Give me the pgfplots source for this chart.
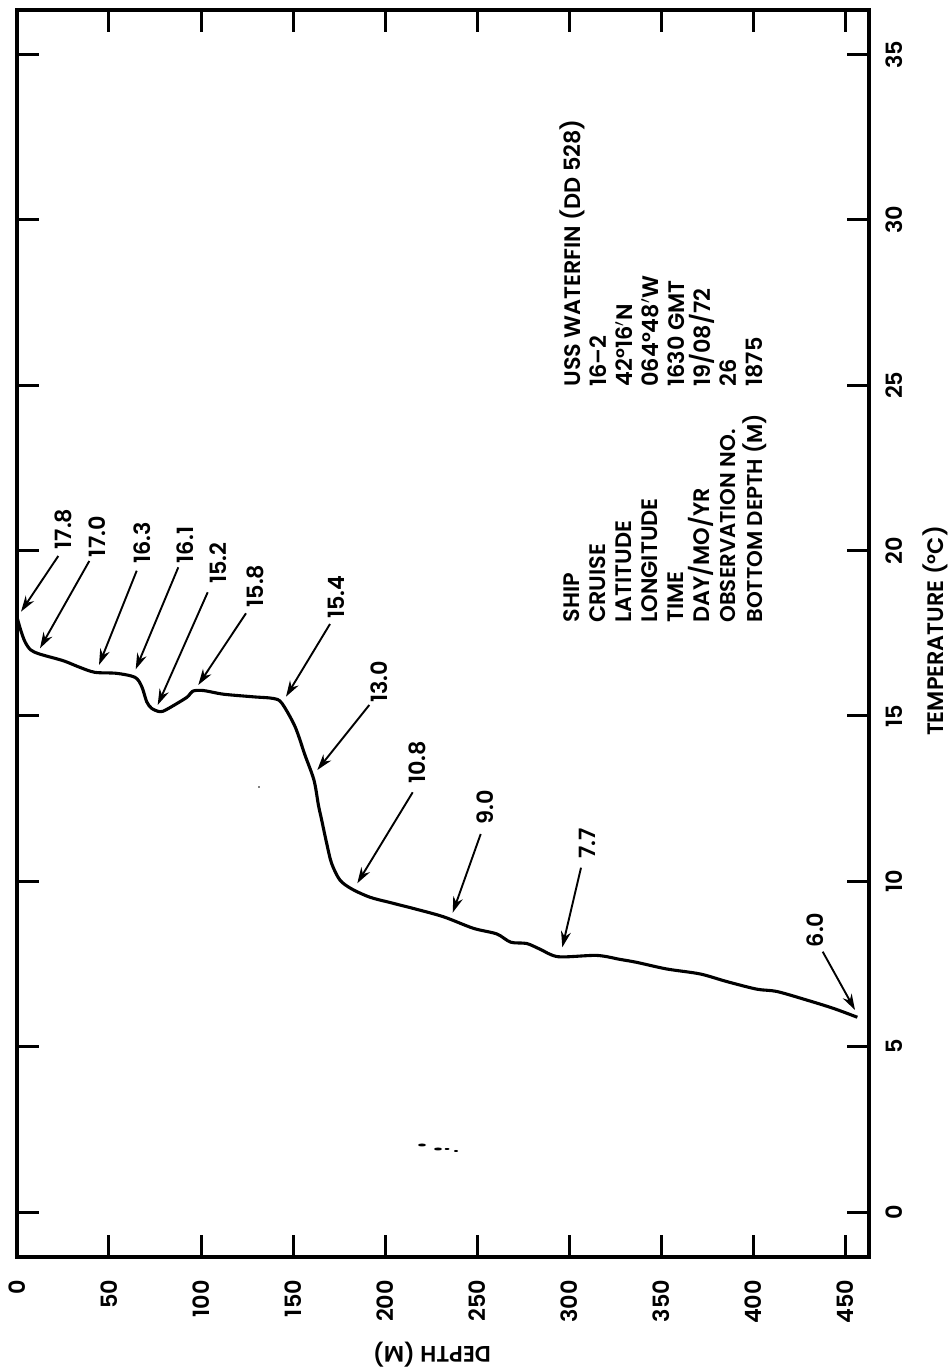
\documentclass[border=0pt]{standalone}
\usepackage{pgfplots}
\pgfplotsset{compat=1.18}
\usepackage{fontspec}
\setmainfont{Poppins}[UprightFont=* SemiBold]
\usetikzlibrary{arrows.meta}
\newcommand{\lbl}{\fontsize{11.2}{13}\selectfont}
\newcommand{\lbs}{\fontsize{10.7}{13}\selectfont}
\begin{document}
\begin{tikzpicture}[x=1pt,y=1pt]
\useasboundingbox (0,0) rectangle (474.5pt,685pt);
\begin{axis}[
  at={(8.35pt,56.5pt)}, anchor=south west,
  scale only axis, width=426.15pt, height=623.5pt,
  xmin=-0.16, xmax=463.04, ymin=-1.36, ymax=36.35,
  xtick={0,50,...,450}, ytick={0,5,...,35},
  axis line style={line width=1.9pt},
  tick style={line width=1.5pt,black},
  tick align=inside, major tick length=11pt,
  ticks=both, clip=false,
  tick label style={font=\lbl, /pgf/number format/assume math mode=true},
  xticklabel style={rotate=90, anchor=east, xshift=-8pt},
  yticklabel style={xshift=12.5pt, rotate=90, anchor=center},
  yticklabel pos=right,
]
\addplot[black, line width=1.55pt, line join=round, smooth, tension=0.5] coordinates {
(0.2,17.95)(2,17.6)(4.3,17.25)(7.4,17.0)(12.5,16.87)(25.2,16.67)(34.2,16.47)(42.4,16.32)
(54.2,16.29)(64.1,16.17)(67.8,15.89)(70.5,15.43)(73.2,15.23)(77.7,15.13)(81.4,15.2)
(92.2,15.56)(95.5,15.75)(101.3,15.77)(112.1,15.66)(128.4,15.58)(139.3,15.53)(143.9,15.39)
(151.1,14.68)(156.5,13.82)(161.4,13.06)(163.8,12.31)(165.6,11.85)(168.3,11.15)(171,10.54)
(175.5,10.04)(181.9,9.77)(191.8,9.52)(202.7,9.36)(215.4,9.18)(231.7,8.93)(248,8.58)
(260.7,8.41)(268.3,8.16)(277,8.12)(284.2,7.95)(294.2,7.72)(315,7.76)(327.7,7.64)
(336.8,7.55)(353.1,7.35)(371.2,7.2)(385.7,6.97)(402,6.74)(412.9,6.67)(429.2,6.41)
(443.6,6.16)(456.7,5.89)};
\end{axis}
\begin{scope}[shift={(0,685pt)},x=0.5pt,y=-0.5pt]
\tikzset{ar/.style={-{Stealth[length=8pt,width=5pt]},line width=0.95pt}, v/.style={rotate=90,font=\lbl,inner sep=0pt}, t/.style={rotate=90,font=\lbl,inner sep=0pt,anchor=base west}}
\foreach \a/\b/\c/\d/\tx/\nx/\ny in {
58.3/556/21/611.7/17.8/63.3/529,
89.3/561/40/648.3/17.0/97.7/536.7,
136.7/570.7/99/665/16.3/142.7/543,
178.3/567.3/135.7/669.3/16.1/185.7/545,
207.7/592.3/157.7/705/15.2/218.3/563,
246/613.3/198.3/685/15.8/255.7/586,
330/624/286/696.7/15.4/336/597,
369.3/705/317.3/770/13.0/379/681.7,
412.7/792.3/357.3/883.3/10.8/417.7/762.3,
480.7/834/452.7/912.7/9.0/485/807.3,
581/867.7/562.3/947.3/7.7/587.3/843.3,
822.7/951.7/855/1010/6.0/815.7/930}{
  \draw[ar] (\a,\b) -- (\c,\d);
  \node[v] at (\nx,\ny) {\tx};
}
\node[t] at (579,623) {SHIP};
\node[t] at (605,623) {CRUISE};
\node[t] at (631,623) {LATITUDE};
\node[t] at (657,623) {LONGITUDE};
\node[t] at (683,623) {TIME};
\node[t] at (709,623) {DAY/MO/YR};
\node[t,font=\lbs] at (735,623) {OBSERVATION NO.};
\node[t,font=\lbs] at (762,623) {BOTTOM DEPTH (M)};
\node[t] at (580,387) {USS WATERFIN (DD 528)};
\node[t] at (606,387) {16--2};
\node[t] at (632,387) {42°16$'$N};
\node[t] at (658,387) {064°48$'$W};
\node[t] at (684,387) {1630 GMT};
\node[t] at (710,387) {19/08/72};
\node[t] at (736,387) {26};
\node[t] at (762,387) {1875};
\node[v] at (935,631) {TEMPERATURE (°C)};
\node[rotate=180,font=\lbl,inner sep=0pt] at (432,1355) {DEPTH (M)};
\fill (422,1145) ellipse (4 and 1.5);
\fill (438,1149) ellipse (4 and 1.5);
\fill (447,1149) ellipse (2.5 and 1);
\fill (456,1151) ellipse (2 and 1);
\fill (259,787) circle (0.8);
\end{scope}
\end{tikzpicture}
\end{document}
